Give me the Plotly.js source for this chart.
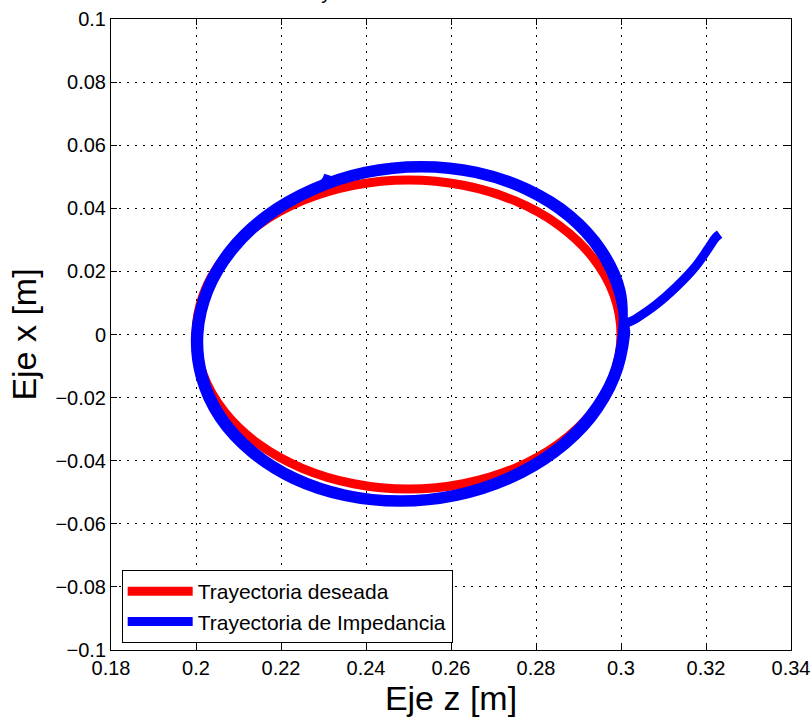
<!DOCTYPE html>
<html>
<head>
<meta charset="utf-8">
<script src="https://cdn.plot.ly/plotly-3.0.1.min.js"></script>
<style>html,body{margin:0;padding:0;background:#fff;}#chart{width:812px;height:727px;}</style>
</head>
<body>
<div id="chart"></div>
<script>
// Desired trajectory (red): z and x, in metres
var desiredZ = [0.3000,0.2983,0.2933,0.2854,0.2750,0.2629,0.2500,0.2371,0.2250,0.2146,0.2067,0.2017,0.2000,0.2017,0.2067,0.2146,0.2250,0.2371,0.2500,0.2629,0.2750,0.2854,0.2933,0.2983,0.3000];
var desiredX = [0.0000,0.0127,0.0245,0.0346,0.0424,0.0473,0.0490,0.0473,0.0424,0.0346,0.0245,0.0127,0.0000,-0.0127,-0.0245,-0.0346,-0.0424,-0.0473,-0.0490,-0.0473,-0.0424,-0.0346,-0.0245,-0.0127,0.0000];

// Impedance trajectory (blue): approach, two loops, partial loop ending at the top
var impedZ = [
  0.3232,0.3222,0.3205,0.3175,0.3131,0.3083,0.3035,0.3011,
  0.3011,0.2987,0.2931,0.2845,0.2736,0.2612,0.2480,0.2350,0.2230,0.2130,0.2054,0.2010,0.1999,0.2023,0.2079,0.2165,0.2274,0.2398,0.2530,0.2660,0.2780,0.2881,0.2956,0.3000,
  0.3003,0.2980,0.2924,0.2840,0.2732,0.2610,0.2480,0.2352,0.2234,0.2135,0.2061,0.2017,0.2007,0.2030,0.2086,0.2170,0.2278,0.2400,0.2530,0.2658,0.2776,0.2875,0.2949,0.2993,
  0.3007,0.2983,0.2927,0.2842,0.2734,0.2611,0.2480,0.2351,0.2232,0.2132,0.2058,0.2014,0.2003,0.2027,0.2083,0.2168,0.2276,0.2304,0.2312
];
var impedX = [
  0.0318,0.0306,0.0272,0.0215,0.0152,0.0095,0.0050,0.0031,
  0.0002,-0.0136,-0.0265,-0.0376,-0.0461,-0.0514,-0.0532,-0.0514,-0.0461,-0.0376,-0.0265,-0.0136,0.0002,0.0140,0.0269,0.0380,0.0464,0.0518,0.0536,0.0518,0.0464,0.0380,0.0269,0.0140,
  0.0002,-0.0133,-0.0259,-0.0369,-0.0453,-0.0506,-0.0524,-0.0506,-0.0453,-0.0369,-0.0260,-0.0131,0.0002,0.0137,0.0264,0.0373,0.0457,0.0510,0.0528,0.0510,0.0457,0.0373,0.0264,0.0137,
  0.0002,-0.0135,-0.0263,-0.0373,-0.0457,-0.0510,-0.0528,-0.0510,-0.0457,-0.0373,-0.0263,-0.0135,0.0002,0.0139,0.0267,0.0377,0.0461,0.0484,0.0505
];

var seriesNames = ["Trayectoria deseada", "Trayectoria de Impedancia"];
var xTickVals = [0.18,0.2,0.22,0.24,0.26,0.28,0.3,0.32,0.34];
var yTickVals = [-0.1,-0.08,-0.06,-0.04,-0.02,0,0.02,0.04,0.06,0.08,0.1];
var titleText = "Trayectoria";

var FONT = "Liberation Sans, Arial, Helvetica, sans-serif";

var traces = [
  {x: desiredZ, y: desiredX, mode: "lines", name: seriesNames[0],
   line: {color: "#ff0000", width: 9, shape: "spline", smoothing: 1}},
  {x: impedZ, y: impedX, mode: "lines", name: seriesNames[1],
   line: {color: "#0000ff", width: 9, shape: "spline", smoothing: 1}}
];

var axisCommon = {
  showline: true, linecolor: "#000", linewidth: 1, mirror: "ticks",
  ticks: "inside", ticklen: 6, tickcolor: "#000", tickwidth: 1,
  showgrid: true, gridcolor: "#000", gridwidth: 1, griddash: "2px,6px",
  zeroline: false, tickfont: {family: FONT, size: 20, color: "#000"}
};

var layout = {
  width: 812, height: 727,
  paper_bgcolor: "#fff", plot_bgcolor: "#fff",
  margin: {l: 111, r: 21, t: 19, b: 77},
  showlegend: true,
  legend: {x: 0.0157, y: 0.1268, xanchor: "left", yanchor: "top",
           bgcolor: "#fff", bordercolor: "#000", borderwidth: 1, itemwidth: 65,
           font: {family: FONT, size: 21, color: "#000"}, tracegroupgap: 0},
  xaxis: Object.assign({}, axisCommon, {
    range: [0.18, 0.34], tickvals: xTickVals, ticktext: xTickVals.map(String),
    title: {text: "Eje z [m]", font: {family: FONT, size: 34, color: "#000"}, standoff: 6}
  }),
  yaxis: Object.assign({}, axisCommon, {
    range: [-0.1, 0.1], tickvals: yTickVals,
    ticktext: yTickVals.map(function(v){ return v < 0 ? "\u2212" + String(-v) : String(v); }),
    title: {text: "Eje x [m]", font: {family: FONT, size: 34, color: "#000"}, standoff: 8}
  }),
  annotations: [{text: titleText, xref: "paper", yref: "paper", x: 0.263, y: 1.022,
                 xanchor: "left", yanchor: "bottom", showarrow: false,
                 font: {family: FONT, size: 20, color: "#000"}}],
  font: {family: FONT, color: "#000"}
};

Plotly.newPlot("chart", traces, layout, {displayModeBar: false, staticPlot: true});
</script>
</body>
</html>
